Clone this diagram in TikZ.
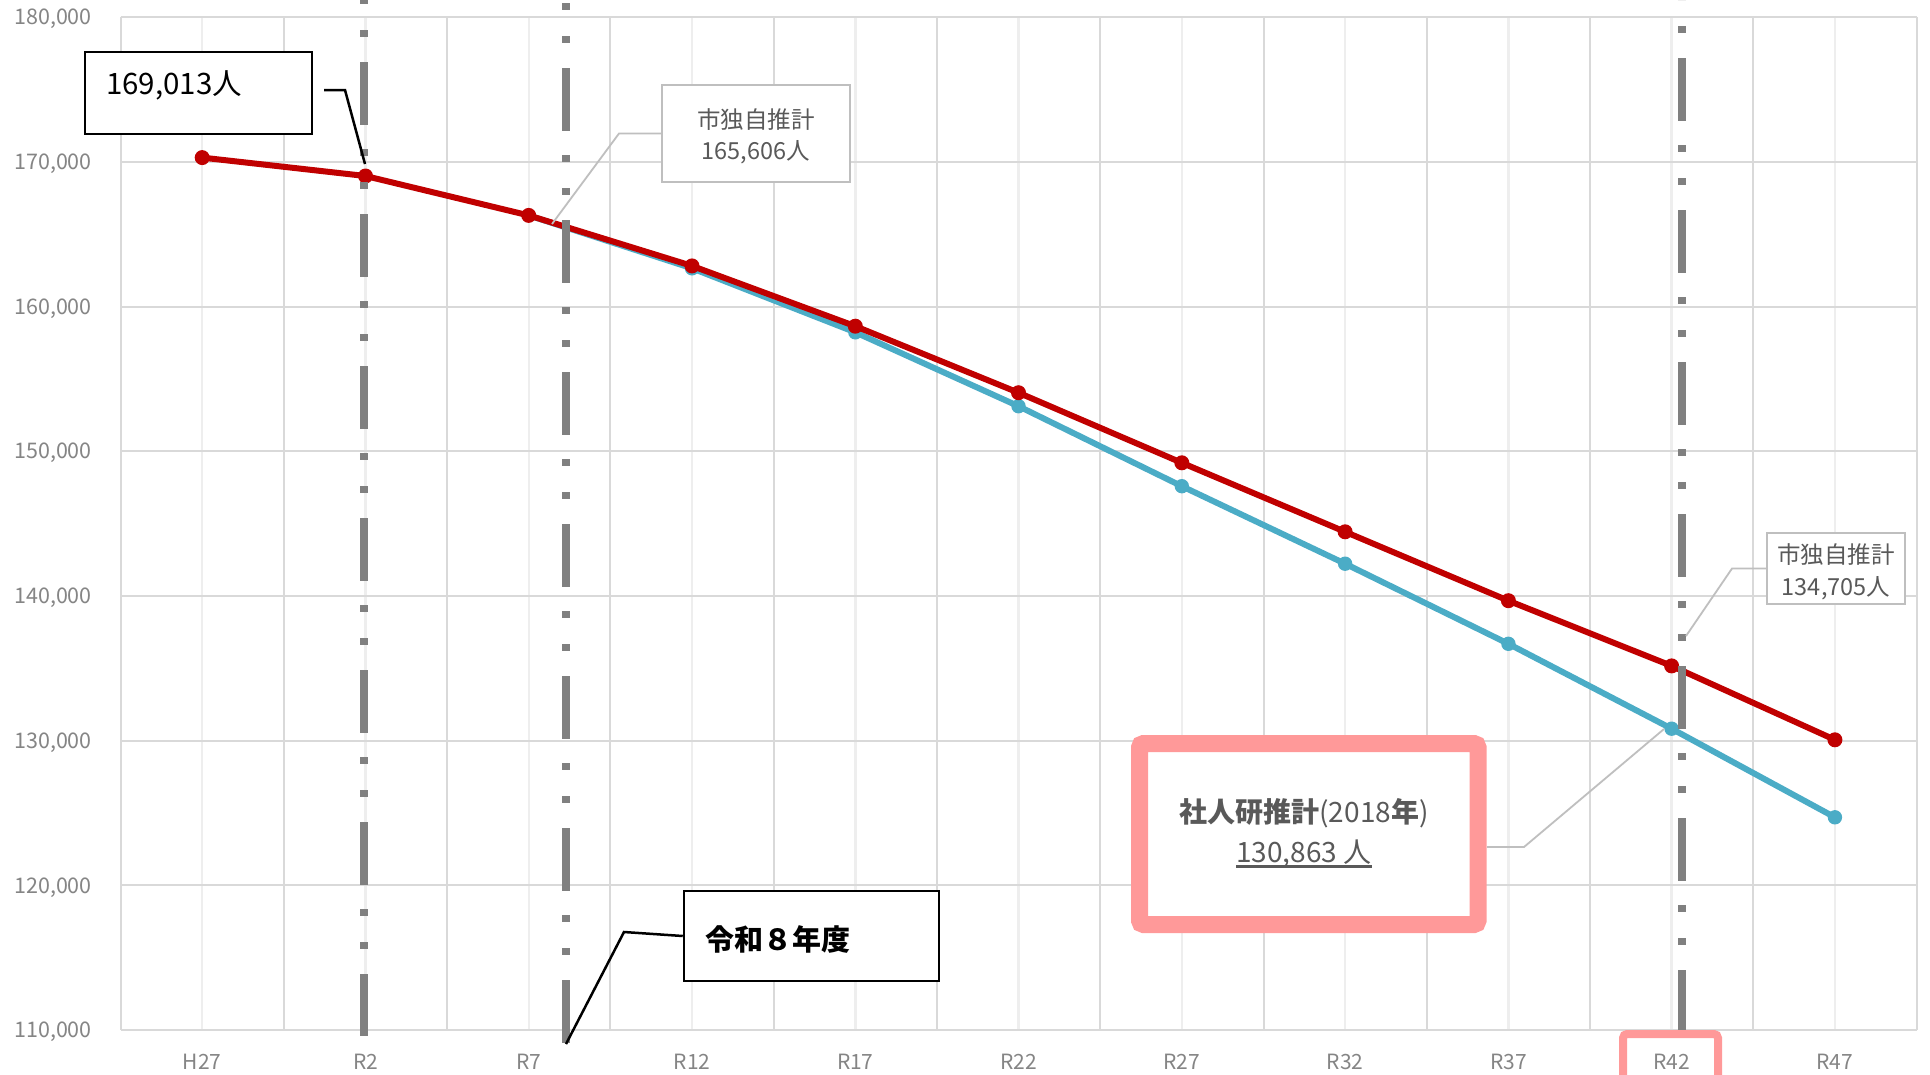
\documentclass[tikz,border=0pt]{standalone}
\usepackage{fontspec}
\setmainfont{Noto Sans CJK JP}
\newfontfamily\jp{Noto Sans CJK JP}
\definecolor{gridc}{HTML}{D9D9D9}
\definecolor{gridm}{HTML}{EEEEEE}
\definecolor{axtxt}{HTML}{858585}
\definecolor{txtg}{HTML}{595959}
\definecolor{redl}{HTML}{C00000}
\definecolor{bluel}{HTML}{4BACC6}
\definecolor{dashg}{HTML}{808080}
\definecolor{pinkc}{HTML}{FF9999}
\definecolor{leadg}{HTML}{BFBFBF}
\tikzset{
  ylab/.style={anchor=base east, inner sep=0pt, text=axtxt, font=\fontsize{21.5}{21.5}\selectfont},
  xlab/.style={anchor=base, inner sep=0pt, text=axtxt, font=\fontsize{21}{21}\selectfont},
  dashline/.style={draw=dashg, line width=8pt, dash pattern=on 63pt off 24pt on 7pt off 26pt on 7pt off 25pt},
  blackbox/.style={draw=black, line width=2.5pt, fill=white, inner sep=0pt},
  greybox/.style={draw=leadg, line width=2pt, fill=white, inner sep=0pt},
  blacklead/.style={draw=black, line width=2.5pt},
  greylead/.style={draw=leadg, line width=1.8pt},
  gtext/.style={anchor=base, inner sep=0pt, text=txtg},
}
\begin{document}
\begin{tikzpicture}[x=1pt,y=-1pt]
\useasboundingbox (0,0) rectangle (1930,1074);
\fill[white] (0,0) rectangle (1930,1074);
\begin{scope}
\clip (0,0) rectangle (1930,1074);
% minor vertical gridlines (category centres)
\foreach \i in {0,...,10}
  \draw[gridm, line width=2.5pt] ({120.6+(\i+0.5)*163.27},17.2) -- ({120.6+(\i+0.5)*163.27},1030);
% major vertical gridlines
\foreach \i in {0,...,11}
  \draw[gridc, line width=2pt] ({120.6+\i*163.27},17.2) -- ({120.6+\i*163.27},1030);
% horizontal gridlines
\foreach \k in {0,...,7}
  \draw[gridc, line width=2pt] (120.6,{17.2+\k*144.69}) -- (1916.6,{17.2+\k*144.69});
% y labels
\foreach \k/\lab in {0/{180,000},1/{170,000},2/{160,000},3/{150,000},4/{140,000},5/{130,000},6/{120,000},7/{110,000}}
  \node[ylab] (y\k) at (92,{17.2+\k*144.69+7.7}) {\lab};
% x labels
\foreach \i/\lab in {0/H27,1/R2,2/R7,3/R12,4/R17,5/R22,6/R27,7/R32,8/R37,9/R42,10/R47}
  \node[xlab] (x\i) at ({120.6+(\i+0.5)*163.27},1069) {\lab};

% data points
\coordinate (r0) at (202.2,157.6);
\coordinate (r1) at (365.5,176.0);
\coordinate (r2) at (528.7,215.4);
\coordinate (r3) at (692.0,265.9);
\coordinate (r4) at (855.3,326.2);
\coordinate (r5) at (1018.5,392.7);
\coordinate (r6) at (1181.8,462.8);
\coordinate (r7) at (1345.1,531.8);
\coordinate (r8) at (1508.4,600.7);
\coordinate (r9) at (1671.6,665.9);
\coordinate (r10) at (1834.9,739.8);
\coordinate (b2) at (528.7,215.4);
\coordinate (b3) at (692.0,268.3);
\coordinate (b4) at (855.3,332.3);
\coordinate (b5) at (1018.5,406.2);
\coordinate (b6) at (1181.8,486.2);
\coordinate (b7) at (1345.1,563.7);
\coordinate (b8) at (1508.4,643.8);
\coordinate (b9) at (1671.6,728.7);
\coordinate (b10) at (1834.9,817.3);

\draw[bluel, line width=6pt, line join=round] (b2) -- (b3) -- (b4) -- (b5) -- (b6) -- (b7) -- (b8) -- (b9) -- (b10);
\foreach \i in {3,...,10} \fill[bluel] (b\i) circle[radius=7.2pt];
\draw[redl, line width=6pt, line join=round] (r0) -- (r1) -- (r2) -- (r3) -- (r4) -- (r5) -- (r6) -- (r7) -- (r8) -- (r9) -- (r10);
\foreach \i in {0,...,10} \fill[redl] (r\i) circle[radius=7.5pt];

% dash-dot-dot vertical lines
\coordinate (d1t) at (364,0); \coordinate (d1b) at (364,1036);
\coordinate (d2t) at (566,0); \coordinate (d2b) at (566,1044);
\coordinate (d3t) at (1682,0); \coordinate (d3b) at (1682,1030);
\draw[dashline, dash phase=90pt] (d1t) -- (d1b);
\draw[dashline, dash phase=84pt] (d2t) -- (d2b);
\draw[dashline, dash phase=94pt] (d3t) -- (d3b);

% callout 169,013
\node[blackbox, minimum width=227pt, minimum height=82pt] (bxa) at (198.5,93) {};
\node[anchor=base west, inner sep=0pt, font=\fontsize{29.5}{29.5}\selectfont] (ta) at (106,94) {169,013人};
\coordinate (la1) at (324,90); \coordinate (la2) at (345,90); \coordinate (la3) at (365,164);
\draw[blacklead] (la1) -- (la2) -- (la3);

% callout 165,606
\node[greybox, minimum width=188pt, minimum height=97pt] (bxb) at (756,133.5) {};
\node[gtext, font=\fontsize{23.5}{23.5}\selectfont] (tb1) at (756,128.7) {市独自推計};
\node[gtext, font=\fontsize{23.5}{23.5}\selectfont] (tb2) at (756,159.4) {165,606人};
\coordinate (lb2) at (619,133.5); \coordinate (lb3) at (552,224);
\draw[greylead] (bxb.west) -- (lb2) -- (lb3);

% callout 134,705
\node[greybox, minimum width=138pt, minimum height=71pt] (bxc) at (1836,568.5) {};
\node[gtext, font=\fontsize{23.5}{23.5}\selectfont] (tc1) at (1836,563.7) {市独自推計};
\node[gtext, font=\fontsize{23.5}{23.5}\selectfont] (tc2) at (1836,595.4) {134,705人};
\coordinate (lc2) at (1732,568.5); \coordinate (lc3) at (1686,636);
\draw[greylead] (bxc.west) -- (lc2) -- (lc3);

% pink callout
\coordinate (ld1) at (1487,847); \coordinate (ld2) at (1524,847); \coordinate (ld3) at (1664,729);
\draw[greylead] (ld1) -- (ld2) -- (ld3);
\node[draw=pinkc, line width=17pt, rounded corners=4pt, fill=white, inner sep=0pt, minimum width=338.5pt, minimum height=181pt] (bxd) at (1308.75,834) {};
\node[gtext, font=\fontsize{28}{28}\selectfont] (td1) at (1304,822.6) {{\bfseries 社人研推計}(2018{\bfseries 年})};
\node[gtext, font=\fontsize{28}{28}\selectfont] (td2) at (1304,862) {130,863 人};
\draw[txtg, line width=2.2pt] (td2.south west |- 0,866.5) -- (td2.south east |- 0,866.5);

% Reiwa 8 callout
\node[blackbox, minimum width=255pt, minimum height=90pt] (bxe) at (811.5,936) {};
\node[anchor=base west, inner sep=0pt, font=\bfseries\fontsize{29}{29}\selectfont] (te) at (705,950) {令和８年度};
\coordinate (le2) at (624,932); \coordinate (le3) at (566,1044);
\draw[blacklead] (bxe.west) -- (le2) -- (le3);

% pink frame around R42 label
\coordinate (pf1) at (1623,1090); \coordinate (pf2) at (1623,1034);
\coordinate (pf3) at (1718,1034); \coordinate (pf4) at (1718,1090);
\draw[pinkc, line width=8pt, rounded corners=4pt] (pf1) -- (pf2) -- (pf3) -- (pf4);
\end{scope}
\end{tikzpicture}
\end{document}
